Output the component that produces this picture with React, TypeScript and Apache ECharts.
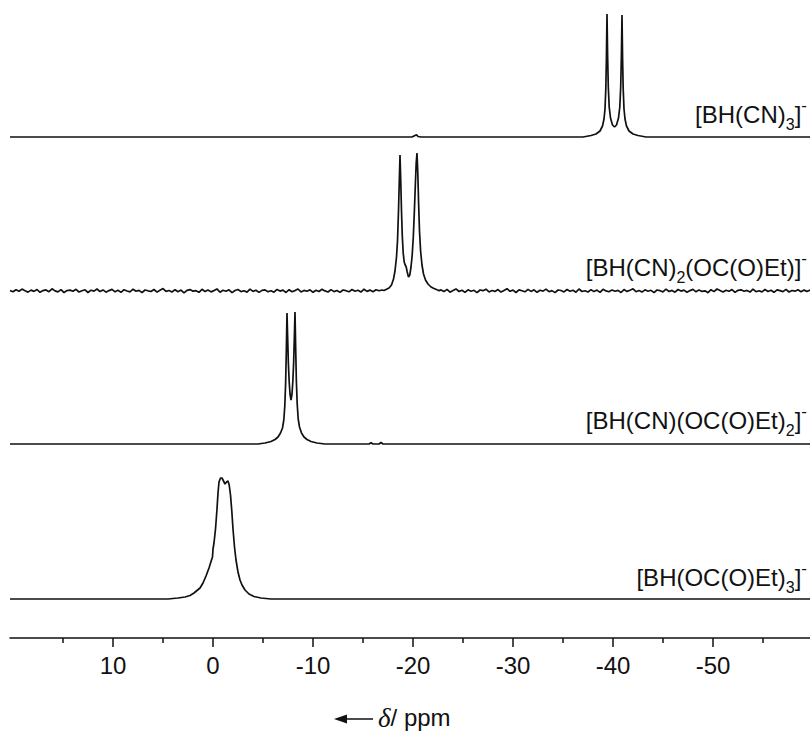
import React, { useEffect, useRef } from "react";
import * as echarts from "echarts";

// x axis (ppm), reversed
const X_MIN = -59.7;
const X_MAX = 20.3;
const MAJOR_TICKS = [10, 0, -10, -20, -30, -40, -50];
const MINOR_TICKS = [15, 5, -5, -15, -25, -35, -45, -55];

const labels = [
  "[BH(CN){s|3}]{p|-}",
  "[BH(CN){s|2}(OC(O)Et)]{p|-}",
  "[BH(CN)(OC(O)Et){s|2}]{p|-}",
  "[BH(OC(O)Et){s|3}]{p|-}",
];

// spectrum 1: [BH(CN)3]-  [ppm, intensity]
const s1: number[][] = [
  [20.3, 0], [-19.9, 0], [-20.2, 1.5], [-20.35, 2.2], [-20.5, 0.5], [-20.8, 0],
  [-37.0, 0], [-37.8, 1.5], [-38.3, 3], [-38.7, 6], [-38.95, 11], [-39.1, 18],
  [-39.2, 28], [-39.28, 48], [-39.34, 78], [-39.4, 123], [-39.46, 82], [-39.53, 50],
  [-39.62, 30], [-39.75, 19], [-39.95, 12], [-40.15, 10], [-40.35, 12], [-40.55, 19],
  [-40.68, 30], [-40.77, 50], [-40.84, 82], [-40.9, 122], [-40.96, 78], [-41.02, 48],
  [-41.1, 28], [-41.2, 18], [-41.35, 11], [-41.6, 6], [-42.0, 3], [-42.5, 1.5],
  [-43.3, 0], [-59.7, 0],
];

// spectrum 2: [BH(CN)2(OC(O)Et)]-  noisy baseline left of the peaks (20.3 -> -16.9, step 0.3)
const s2NoiseLeft: number[] = [
  0.6, -0.8, 1.2, -0.3, 1.9, 0.2, -1.1, 0.9, -0.4, 1.5,
  -1.3, 0.4, 1.1, -0.7, 2.2, 0.1, -0.9, 1.4, -1.6, 0.5,
  0.9, -0.2, 1.7, -1.0, 0.3, 1.2, -1.5, 0.8, -0.1, 2.0,
  -0.6, 1.1, -1.2, 0.4, 1.6, -0.8, 0.7, -1.4, 1.3, 0.0,
  -0.9, 1.8, -0.3, 0.6, -1.7, 1.0, 0.2, -0.5, 1.5, -1.1,
  0.8, 2.4, -0.4, 0.5, -1.0, 1.3, -0.7, 0.9, -1.8, 0.6,
  1.4, -0.2, 0.3, -1.3, 1.7, -0.5, 1.0, -0.9, 0.4, 2.1,
  -1.2, 0.7, -0.3, 1.2, -1.6, 0.5, 1.5, -0.6, 0.2, -1.1,
  1.9, -0.4, 0.8, -1.4, 0.6, 1.1, -0.8, 0.3, -1.2, 1.6,
  -0.1, 0.9, -1.5, 1.3, -0.7, 0.4, 2.0, -0.9, 0.6, -0.3,
  1.2, -1.3, 0.8, -0.5, 1.7, 0.1, -1.0, 1.4, -0.6, 0.5,
  -1.4, 1.0, 0.3, -0.8, 1.5, -0.2, 0.7, -1.1, 1.8, -0.4,
  0.9, -0.7, 1.3, 0.2, 1.0,
];
const s2Peaks: number[][] = [
  [-17.1, 0.5], [-17.35, 1.8], [-17.6, 3], [-17.85, 6], [-18.05, 12], [-18.2, 20],
  [-18.35, 34], [-18.45, 50], [-18.55, 80], [-18.63, 110], [-18.7, 136], [-18.77, 112],
  [-18.85, 80], [-18.93, 55], [-19.02, 38], [-19.12, 29], [-19.22, 26], [-19.32, 24],
  [-19.42, 19], [-19.55, 14], [-19.68, 16], [-19.8, 24], [-19.92, 36], [-20.03, 54],
  [-20.13, 78], [-20.23, 105], [-20.32, 128], [-20.4, 138], [-20.48, 118], [-20.56, 88],
  [-20.65, 60], [-20.76, 40], [-20.9, 26], [-21.05, 17], [-21.25, 11], [-21.5, 7],
  [-21.8, 4], [-22.1, 2.5], [-22.4, 1.2], [-22.6, 0.4],
];
// noisy baseline right of the peaks (-22.8 -> -59.7, step 0.3)
const s2NoiseRight: number[] = [
  1.1, -0.6, 1.6, -1.2, 0.4, 2.1, -0.5, 0.8, -1.4, 1.2,
  -0.2, 0.7, -1.7, 1.0, 0.3, 1.8, -0.9, 0.5, -0.4, 1.4,
  -1.1, 0.6, 2.3, -0.3, 0.9, -1.5, 1.1, 0.2, -0.8, 1.6,
  -0.4, 1.2, -1.3, 0.7, -0.1, 1.9, -0.7, 0.4, -1.6, 1.0,
  0.5, -0.9, 1.5, -0.2, 0.8, -1.2, 2.0, -0.5, 0.3, -1.0,
  1.3, -0.6, 0.9, -1.4, 1.7, 0.1, -0.8, 1.1, -0.3, 0.6,
  -1.5, 1.4, -0.4, 0.8, 2.2, -0.7, 0.5, -1.1, 1.2, -0.2,
  0.7, -1.6, 1.0, 0.3, -0.9, 1.8, -0.5, 0.6, -1.2, 1.5,
  -0.1, 0.9, -1.3, 0.4, 1.6, -0.8, 1.1, -0.4, 0.2, -1.7,
  1.3, -0.6, 2.0, 0.5, -1.0, 0.8, -0.3, 1.4, -1.4, 0.7,
  1.2, -0.2, 0.6, -1.1, 1.9, -0.7, 0.3, -0.9, 1.5, -0.5,
  0.8, -1.3, 1.1, 0.4, -0.6, 1.7, -1.0, 0.5, -0.2, 1.2,
  -0.8, 0.9, -0.4, 1.0,
];
const S2_LEFT_START = 20.3;
const S2_RIGHT_START = -22.8;
const NOISE_STEP = 0.3;

// spectrum 3: [BH(CN)(OC(O)Et)2]-
const s3: number[][] = [
  [20.3, 0], [-4.5, 0], [-5.2, 1], [-5.8, 2.5], [-6.2, 4.5], [-6.5, 7], [-6.75, 11],
  [-6.95, 16], [-7.08, 24], [-7.18, 38], [-7.26, 60], [-7.33, 92], [-7.4, 131],
  [-7.47, 105], [-7.54, 80], [-7.62, 62], [-7.7, 50], [-7.8, 44], [-7.9, 50],
  [-7.98, 62], [-8.06, 80], [-8.13, 105], [-8.2, 132], [-8.27, 95], [-8.34, 62],
  [-8.42, 40], [-8.52, 25], [-8.65, 17], [-8.85, 11], [-9.1, 7], [-9.4, 4.5],
  [-9.8, 2.5], [-10.4, 1], [-11.2, 0], [-15.6, 0], [-15.8, 1.2], [-16.0, 0],
  [-16.6, 0], [-16.8, 1.5], [-17.0, 0], [-59.7, 0],
];

// spectrum 4: [BH(OC(O)Et)3]-
const s4: number[][] = [
  [20.3, 0], [4.5, 0], [3.5, 1], [2.8, 2], [2.3, 3.5], [1.9, 6], [1.6, 8.5],
  [1.3, 11], [1.0, 16], [0.7, 23], [0.4, 31], [0.15, 39], [0.05, 42], [0.0, 50],
  [-0.1, 56], [-0.25, 70], [-0.4, 90], [-0.5, 106], [-0.6, 117], [-0.75, 121],
  [-0.9, 121], [-1.05, 118], [-1.2, 115], [-1.35, 117], [-1.5, 118], [-1.62, 114],
  [-1.75, 104], [-1.88, 88], [-2.0, 70], [-2.15, 52], [-2.3, 39], [-2.5, 27],
  [-2.7, 19], [-2.9, 14], [-3.2, 9], [-3.6, 5], [-4.1, 2.5], [-4.8, 1],
  [-5.8, 0], [-59.7, 0],
];

// vertical stacking offsets (in y-axis units)
const offsets = [501, 347, 194, 39];
const Y_MAX = 638;

const SANS = "'Liberation Sans', Arial, sans-serif";

export default function App() {
  const ref = useRef<HTMLDivElement>(null);

  useEffect(() => {
    document.body.style.margin = "0";
    if (!ref.current) return;
    const chart = echarts.init(ref.current, undefined, { renderer: "svg" });

    const s2: number[][] = [];
    s2NoiseLeft.forEach((v, i) => s2.push([S2_LEFT_START - i * NOISE_STEP, v]));
    s2Peaks.forEach((p) => s2.push(p));
    s2NoiseRight.forEach((v, i) => s2.push([S2_RIGHT_START - i * NOISE_STEP, v]));

    const spectra = [s1, s2, s3, s4];

    const series = spectra.map((d, k) => ({
      type: "line",
      xAxisIndex: 0,
      yAxisIndex: 0,
      data: d.map(([x, y]) => [x, y + offsets[k]]),
      showSymbol: false,
      symbol: "none",
      lineStyle: { color: "#111", width: 1.7 },
      silent: true,
    }));

    const rich = {
      s: { fontSize: 16, fontFamily: SANS, color: "#111", padding: [20, 0, 0, 0] },
      p: { fontSize: 17, fontFamily: SANS, color: "#111", padding: [0, 0, 18, 0] },
    };
    const labelTops = [97, 250, 403, 560];

    const graphics: any[] = labels.map((t, k) => ({
      type: "text",
      right: 3,
      top: labelTops[k],
      style: {
        text: t,
        fontSize: 24,
        fontFamily: SANS,
        fill: "#111",
        rich,
      },
    }));

    // axis title: arrow + δ / ppm
    graphics.push({
      type: "line",
      shape: { x1: 342, y1: 719, x2: 373, y2: 719 },
      style: { stroke: "#111", lineWidth: 1.5 },
    });
    graphics.push({
      type: "polygon",
      shape: { points: [[334, 719], [347, 714.5], [347, 723.5]] },
      style: { fill: "#111" },
    });
    graphics.push({
      type: "text",
      left: 378,
      top: 704,
      style: {
        text: "{d|δ}/ ppm",
        fontSize: 24,
        fontFamily: SANS,
        fill: "#111",
        rich: {
          d: { fontSize: 27, fontStyle: "italic", fontFamily: "'Liberation Serif', serif", color: "#111" },
        },
      },
    });

    chart.setOption({
      animation: false,
      grid: { left: 10, right: 0, top: 0, height: Y_MAX, containLabel: false },
      xAxis: [
        {
          type: "value",
          min: X_MIN,
          max: X_MAX,
          inverse: true,
          position: "bottom",
          splitLine: { show: false },
          axisLine: { show: true, onZero: false, lineStyle: { color: "#111", width: 1.5 } },
          axisTick: { show: true, customValues: MAJOR_TICKS, length: 9, inside: false, lineStyle: { color: "#111", width: 1.5 } },
          axisLabel: { show: true, customValues: MAJOR_TICKS, fontSize: 24, fontFamily: SANS, color: "#111", margin: 15 },
        },
        {
          type: "value",
          min: X_MIN,
          max: X_MAX,
          inverse: true,
          position: "bottom",
          splitLine: { show: false },
          axisLine: { show: false },
          axisTick: { show: true, customValues: MINOR_TICKS, length: 5, lineStyle: { color: "#111", width: 1.5 } },
          axisLabel: { show: false },
        },
      ],
      yAxis: { type: "value", min: 0, max: Y_MAX, show: false },
      series,
      graphic: graphics,
    });

    return () => chart.dispose();
  }, []);

  return <div ref={ref} style={{ width: 810, height: 731 }} />;
}
